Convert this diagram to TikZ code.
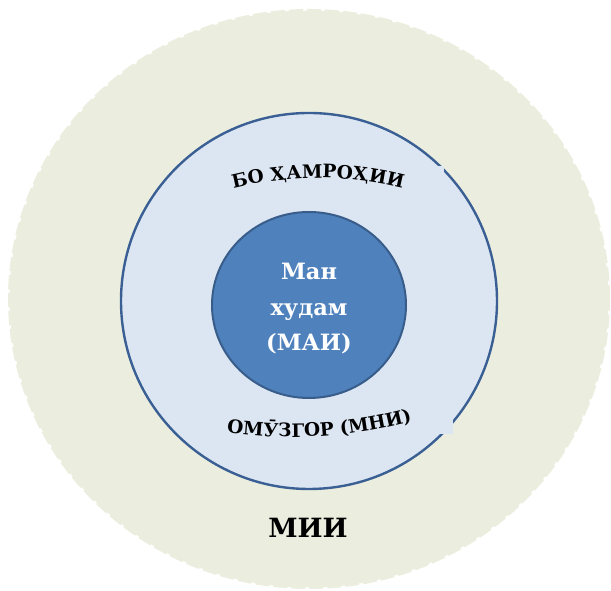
\documentclass[tikz,border=0pt]{standalone}
\usepackage{fontspec}
\setmainfont{DejaVu Serif}
\usetikzlibrary{shapes.geometric, decorations.text}
\definecolor{outergreen}{HTML}{EBEEDE}
\definecolor{midblue}{HTML}{DCE6F2}
\definecolor{midline}{HTML}{3A5F94}
\definecolor{innerblue}{HTML}{4F81BD}
\definecolor{innerline}{HTML}{385D8A}
\begin{document}
\begin{tikzpicture}[x=1pt, y=1pt,
    ring/.style={line width=2.4pt, draw=midline, fill=midblue},
    core/.style={ellipse, line width=2pt, draw=innerline, fill=innerblue, minimum width=194, minimum height=186},
    coretext/.style={text=white, align=center, font=\bfseries\fontsize{22.5}{35.5}\selectfont},
    label/.style={font=\bfseries\fontsize{26.5}{27}\selectfont}]
        \useasboundingbox (0,0) rectangle (611,591);
        \fill[outergreen] (309,292) ellipse [x radius=299.5, y radius=288.5];
        \draw[outergreen, line width=3pt, dash pattern=on 14pt off 4pt] (309,292) ellipse [x radius=299.5, y radius=288.5];
        \draw[ring] (309,290) circle (188);
        \fill[midblue] (215,386) rectangle (444,425);
        \fill[midblue] (200,157) rectangle (453,196);
        \node[core] (self) at (309,286) {};
        \node[coretext, yshift=-4] (selftext) at (self) {Ман\\худам\\(МАИ)};
        \path[decorate, decoration={text along path, text align=center,
            text={|\bfseries\fontsize{18.5}{19}\selectfont|БО ҲАМРОҲИИ}}]
            (318,63) ++(110:350) arc[start angle=110, end angle=70, radius=350];
        \path[decorate, decoration={text along path, text align=center,
            text={|\bfseries\fontsize{18.5}{19}\selectfont|ОМӮЗГОР (МНИ)}}]
            (292,614) ++(255:460) arc[start angle=255, end angle=292, radius=460];
        \node[label, anchor=base] (mii) at (308,53) {МИИ};
    \end{tikzpicture}
\end{document}
